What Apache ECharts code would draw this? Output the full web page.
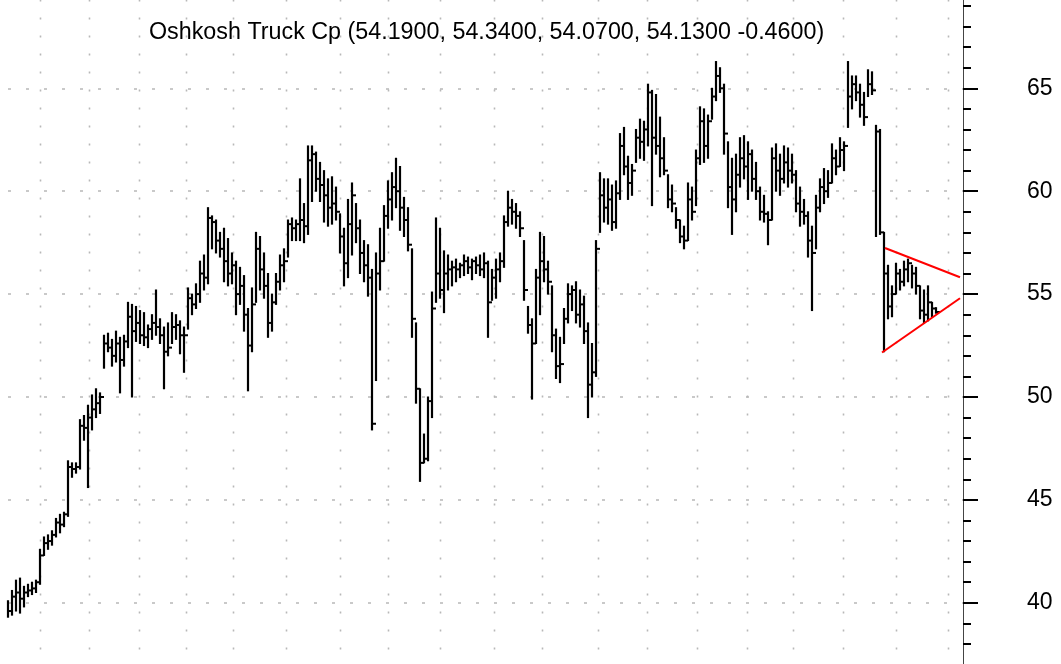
<!DOCTYPE html>
<html>
<head>
<meta charset="utf-8">
<script src="https://cdn.jsdelivr.net/npm/echarts@6/dist/echarts.min.js"></script>
<style>
html,body{margin:0;padding:0;background:#fff;}
#chart{width:1061px;height:664px;}
</style>
</head>
<body>
<div id="chart"></div>
<script>
// Price bars (each bar ~ two trading days)
const highs = [
 40.1,40.6,41.1,41.2,40.8,40.9,41.0,41.1,
 42.6,43.2,43.3,43.5,44.1,44.3,44.4,
 46.9,46.8,46.8,48.9,49.1,49.6,
 50.1,50.4,50.2,53.0,53.1,52.8,53.2,52.9,
 53.0,54.6,54.5,54.4,54.2,54.1,53.5,54.0,55.2,
 53.8,53.4,53.6,54.1,54.0,53.7,53.4,
 55.3,55.0,55.5,56.6,56.9,59.2,
 58.8,58.6,58.0,58.2,57.7,57.0,56.6,
 56.3,55.9,54.3,55.3,58.0,57.8,57.0,56.0,55.0,
 56.0,56.9,57.2,58.6,58.7,58.6,60.6,59.4,
 62.2,62.2,61.9,61.4,61.0,60.6,60.7,60.2,
 58.9,58.2,59.6,60.4,59.4,58.6,57.6,57.4,
 56.2,57.0,58.2,59.3,60.5,60.9,61.6,61.2,59.7,59.2,
 57.2,53.6,50.4,48.2,50.0,55.1,58.7,58.2,57.1,
 56.9,56.6,56.7,56.5,56.9,56.8,56.7,56.8,56.9,57.0,
 56.6,56.2,56.7,57.0,58.8,60.0,59.6,59.4,59.0,
 57.6,54.4,53.8,56.2,58.0,57.8,56.6,55.4,53.3,52.9,54.3,
 55.5,55.4,55.6,55.2,54.9,53.6,52.6,57.6,
 60.9,60.6,60.6,60.3,60.5,62.8,63.1,61.7,61.3,
 63.0,63.5,63.4,65.2,64.9,64.7,63.6,
 62.6,60.8,60.3,59.2,58.6,58.3,60.4,60.2,62.0,
 64.1,64.0,63.7,65.0,66.3,66.0,65.2,
 62.4,61.6,61.8,62.6,62.7,62.4,62.0,61.4,
 60.2,59.8,59.0,62.1,62.3,61.8,62.2,62.1,61.8,
 61.0,60.2,59.6,59.0,58.3,59.8,
 60.6,61.1,61.0,62.3,62.0,62.6,62.4,
 66.3,65.6,65.6,65.2,64.8,65.9,65.8,
 63.2,63.0,58.0,
 56.4,55.4,56.5,56.2,56.6,56.7,56.4,56.3,55.4,55.2,55.4,54.6,54.34
];
const lows = [
 39.3,39.4,39.6,39.5,39.8,40.3,40.4,40.5,
 40.9,42.3,42.6,42.8,43.2,43.4,43.7,
 44.2,46.1,46.3,46.5,47.9,45.6,
 48.4,49.0,49.2,51.4,52.2,51.5,51.7,50.2,
 51.5,52.4,50.0,52.7,52.6,52.5,52.4,52.8,53.0,
 52.6,50.4,52.0,52.6,52.8,52.1,51.2,
 53.3,54.0,54.3,54.6,55.2,55.5,
 57.2,57.0,56.8,55.6,55.4,55.5,54.0,
 54.5,53.2,50.3,52.2,54.6,55.2,54.8,52.9,53.2,
 54.5,55.2,55.6,56.8,57.6,57.6,57.6,57.5,
 57.9,59.5,60.0,59.5,58.5,58.3,58.4,58.6,
 57.0,55.4,55.8,56.9,57.5,56.0,55.6,54.9,
 48.4,50.8,55.2,56.6,58.2,58.6,59.2,58.1,57.8,57.1,
 52.9,49.7,45.9,46.8,46.9,49.0,54.6,54.8,54.1,
 55.2,55.4,55.6,55.8,55.9,56.0,55.7,56.0,55.9,55.8,
 52.9,54.7,54.8,55.6,56.3,58.3,58.4,58.2,57.8,
 54.7,53.1,49.9,52.6,54.0,55.6,55.0,52.2,50.9,50.7,52.6,
 53.6,54.2,53.6,53.4,52.6,49.0,50.0,51.0,
 58.0,58.5,58.4,58.1,58.2,59.6,60.8,59.6,59.8,
 61.4,61.6,61.5,62.2,59.3,61.8,60.7,
 60.8,59.2,59.0,58.2,57.5,57.2,57.6,58.6,59.3,
 61.3,61.4,61.6,63.5,64.4,64.8,61.8,
 59.2,57.9,59.0,60.2,60.6,59.6,60.0,59.6,
 58.6,58.5,57.4,58.6,60.0,59.8,60.4,60.2,60.4,
 59.0,58.3,58.4,56.8,54.2,57.2,
 59.0,59.4,59.7,60.4,60.8,61.2,61.0,
 63.1,64.0,64.4,63.6,63.2,64.6,64.7,
 57.8,57.9,52.2,
 53.8,53.9,55.0,55.2,55.4,55.6,55.3,55.0,53.8,53.6,53.7,53.9,54.07
];
const closes = [
 39.6,40.3,40.5,40.2,40.5,40.6,40.7,41.0,
 42.3,42.9,43.0,43.3,43.9,43.8,44.3,
 46.6,46.5,46.6,48.6,48.5,49.0,
 49.4,49.7,50.0,52.6,52.4,52.0,52.6,51.8,
 52.7,53.9,53.2,53.6,53.0,52.9,53.3,53.6,53.4,
 53.0,52.2,52.4,53.4,53.5,53.0,53.0,
 54.8,54.5,55.0,56.0,55.8,58.7,
 58.5,57.6,57.2,56.6,56.0,56.4,55.0,
 55.4,54.0,52.5,54.5,57.2,56.2,55.4,53.6,54.6,
 55.6,56.4,56.6,58.4,58.2,58.4,58.6,58.3,
 61.5,61.8,60.6,60.3,59.8,59.2,59.4,59.0,
 57.8,56.5,58.4,59.8,58.2,57.0,56.4,55.8,
 48.7,56.0,56.6,58.8,59.6,60.2,60.0,59.2,58.6,57.4,
 53.8,50.4,46.8,47.0,49.8,54.3,56.0,55.2,56.0,
 56.2,56.3,56.2,56.4,56.6,56.3,56.6,56.4,56.2,56.5,
 54.6,55.8,56.2,56.6,58.5,59.2,59.0,58.8,58.2,
 55.2,53.5,52.6,55.8,56.6,56.2,55.6,53.0,51.5,51.6,53.8,
 55.0,55.2,54.0,54.5,53.2,50.6,51.2,57.2,
 59.8,59.2,59.6,58.5,59.9,62.2,61.2,60.4,61.0,
 62.6,62.4,63.0,64.8,62.6,62.2,61.6,
 61.0,59.6,59.4,58.6,57.8,57.6,59.6,59.0,61.6,
 63.4,62.2,63.4,64.6,65.6,65.0,62.8,
 60.2,59.6,60.8,61.6,61.2,61.8,60.6,60.0,
 59.0,58.9,58.6,61.6,61.0,60.6,61.4,61.0,60.8,
 59.4,59.0,58.8,57.6,57.0,59.2,
 60.2,60.0,60.4,61.6,61.2,62.0,62.2,
 64.6,65.2,64.8,64.2,63.6,65.2,64.9,
 62.9,58.0,56.0,
 54.4,55.0,56.0,55.6,56.2,56.5,56.0,55.4,54.2,54.0,54.6,54.3,54.13
];
// month boundaries, in bar-index units
const monthStarts = [8, 20.25, 32.75, 44.5, 56.25, 69.5, 83, 95, 108, 121.5, 133.5, 147.5, 159.75, 172.25, 184.75, 196.25, 208.75, 222, 235];
// triangle trendlines [barIndex, price]
const trendUpper = [[219.25, 57.24], [238, 55.82]];
const trendLower = [[218.5, 52.16], [238, 54.80]];
const yTicks = [35, 70, 5];
const titleText = 'Oshkosh Truck Cp (54.1900, 54.3400, 54.0700, 54.1300 -0.4600)';

const bars = highs.map((h, i) => [i, h, lows[i], closes[i]]);

const chart = echarts.init(document.getElementById('chart'), null, {renderer: 'canvas'});
const FONT = '"Liberation Sans", Arial, sans-serif';

function renderBar(params, api) {
  const i = api.value(0);
  const pH = api.coord([i, api.value(1)]);
  const pL = api.coord([i, api.value(2)]);
  const pC = api.coord([i, api.value(3)]);
  const step = api.size([1, 0])[0];
  return {
    type: 'group',
    children: [
      {type: 'line', shape: {x1: pH[0], y1: pH[1] - 0.5, x2: pL[0], y2: pL[1] + 0.5}, style: {stroke: '#000', lineWidth: 2.2}},
      {type: 'line', shape: {x1: pC[0] - 1, y1: pC[1], x2: pC[0] + step, y2: pC[1]}, style: {stroke: '#000', lineWidth: 2}}
    ]
  };
}
function renderVGrid(params, api) {
  const x = Math.round(api.coord([api.value(0), 50])[0]) + 0.5;
  const cs = params.coordSys;
  return {
    type: 'line',
    shape: {x1: x, y1: cs.y + 14, x2: x, y2: cs.y + cs.height},
    style: {stroke: '#b8b8b8', lineWidth: 1.6, lineDash: [2, 16]}
  };
}

chart.setOption({
  animation: false,
  backgroundColor: '#fff',
  title: {
    text: titleText,
    left: 144, top: 16,
    textStyle: {fontFamily: FONT, fontSize: 23.3, fontWeight: 'normal', color: '#000'}
  },
  grid: {left: 0, right: 98, top: -14.6, bottom: -41.7, outerBoundsMode: 'none', containLabel: false},
  xAxis: {
    type: 'value', min: -2, max: 238.75,
    show: true,
    axisLine: {show: false}, axisTick: {show: false}, axisLabel: {show: false}, splitLine: {show: false}
  },
  yAxis: {
    type: 'value', position: 'right',
    min: yTicks[0], max: yTicks[1], interval: yTicks[2],
    axisLine: {show: true, onZero: false, lineStyle: {color: '#444', width: 1}},
    axisTick: {show: true, inside: false, length: 15, lineStyle: {color: '#000', width: 2}},
    minorTick: {show: true, splitNumber: 5, length: 8, lineStyle: {color: '#000', width: 2}},
    axisLabel: {show: true, margin: 64, align: 'left', fontFamily: FONT, fontSize: 23, color: '#000'},
    splitLine: {show: true, lineStyle: {color: '#b8b8b8', width: 1.6, type: [3, 15], dashOffset: 10}}
  },
  series: [
    {type: 'custom', data: monthStarts.map(v => [v]), renderItem: renderVGrid, silent: true, z: 1, clip: true},
    {type: 'custom', data: bars, renderItem: renderBar, silent: true, z: 3, clip: false,
     encode: {x: 0, y: [1, 2, 3]}},
    {type: 'line', data: trendUpper, showSymbol: false, symbol: 'none', silent: true, z: 4,
     lineStyle: {color: '#ff0000', width: 2}},
    {type: 'line', data: trendLower, showSymbol: false, symbol: 'none', silent: true, z: 4,
     lineStyle: {color: '#ff0000', width: 2}}
  ]
});
</script>
</body>
</html>
